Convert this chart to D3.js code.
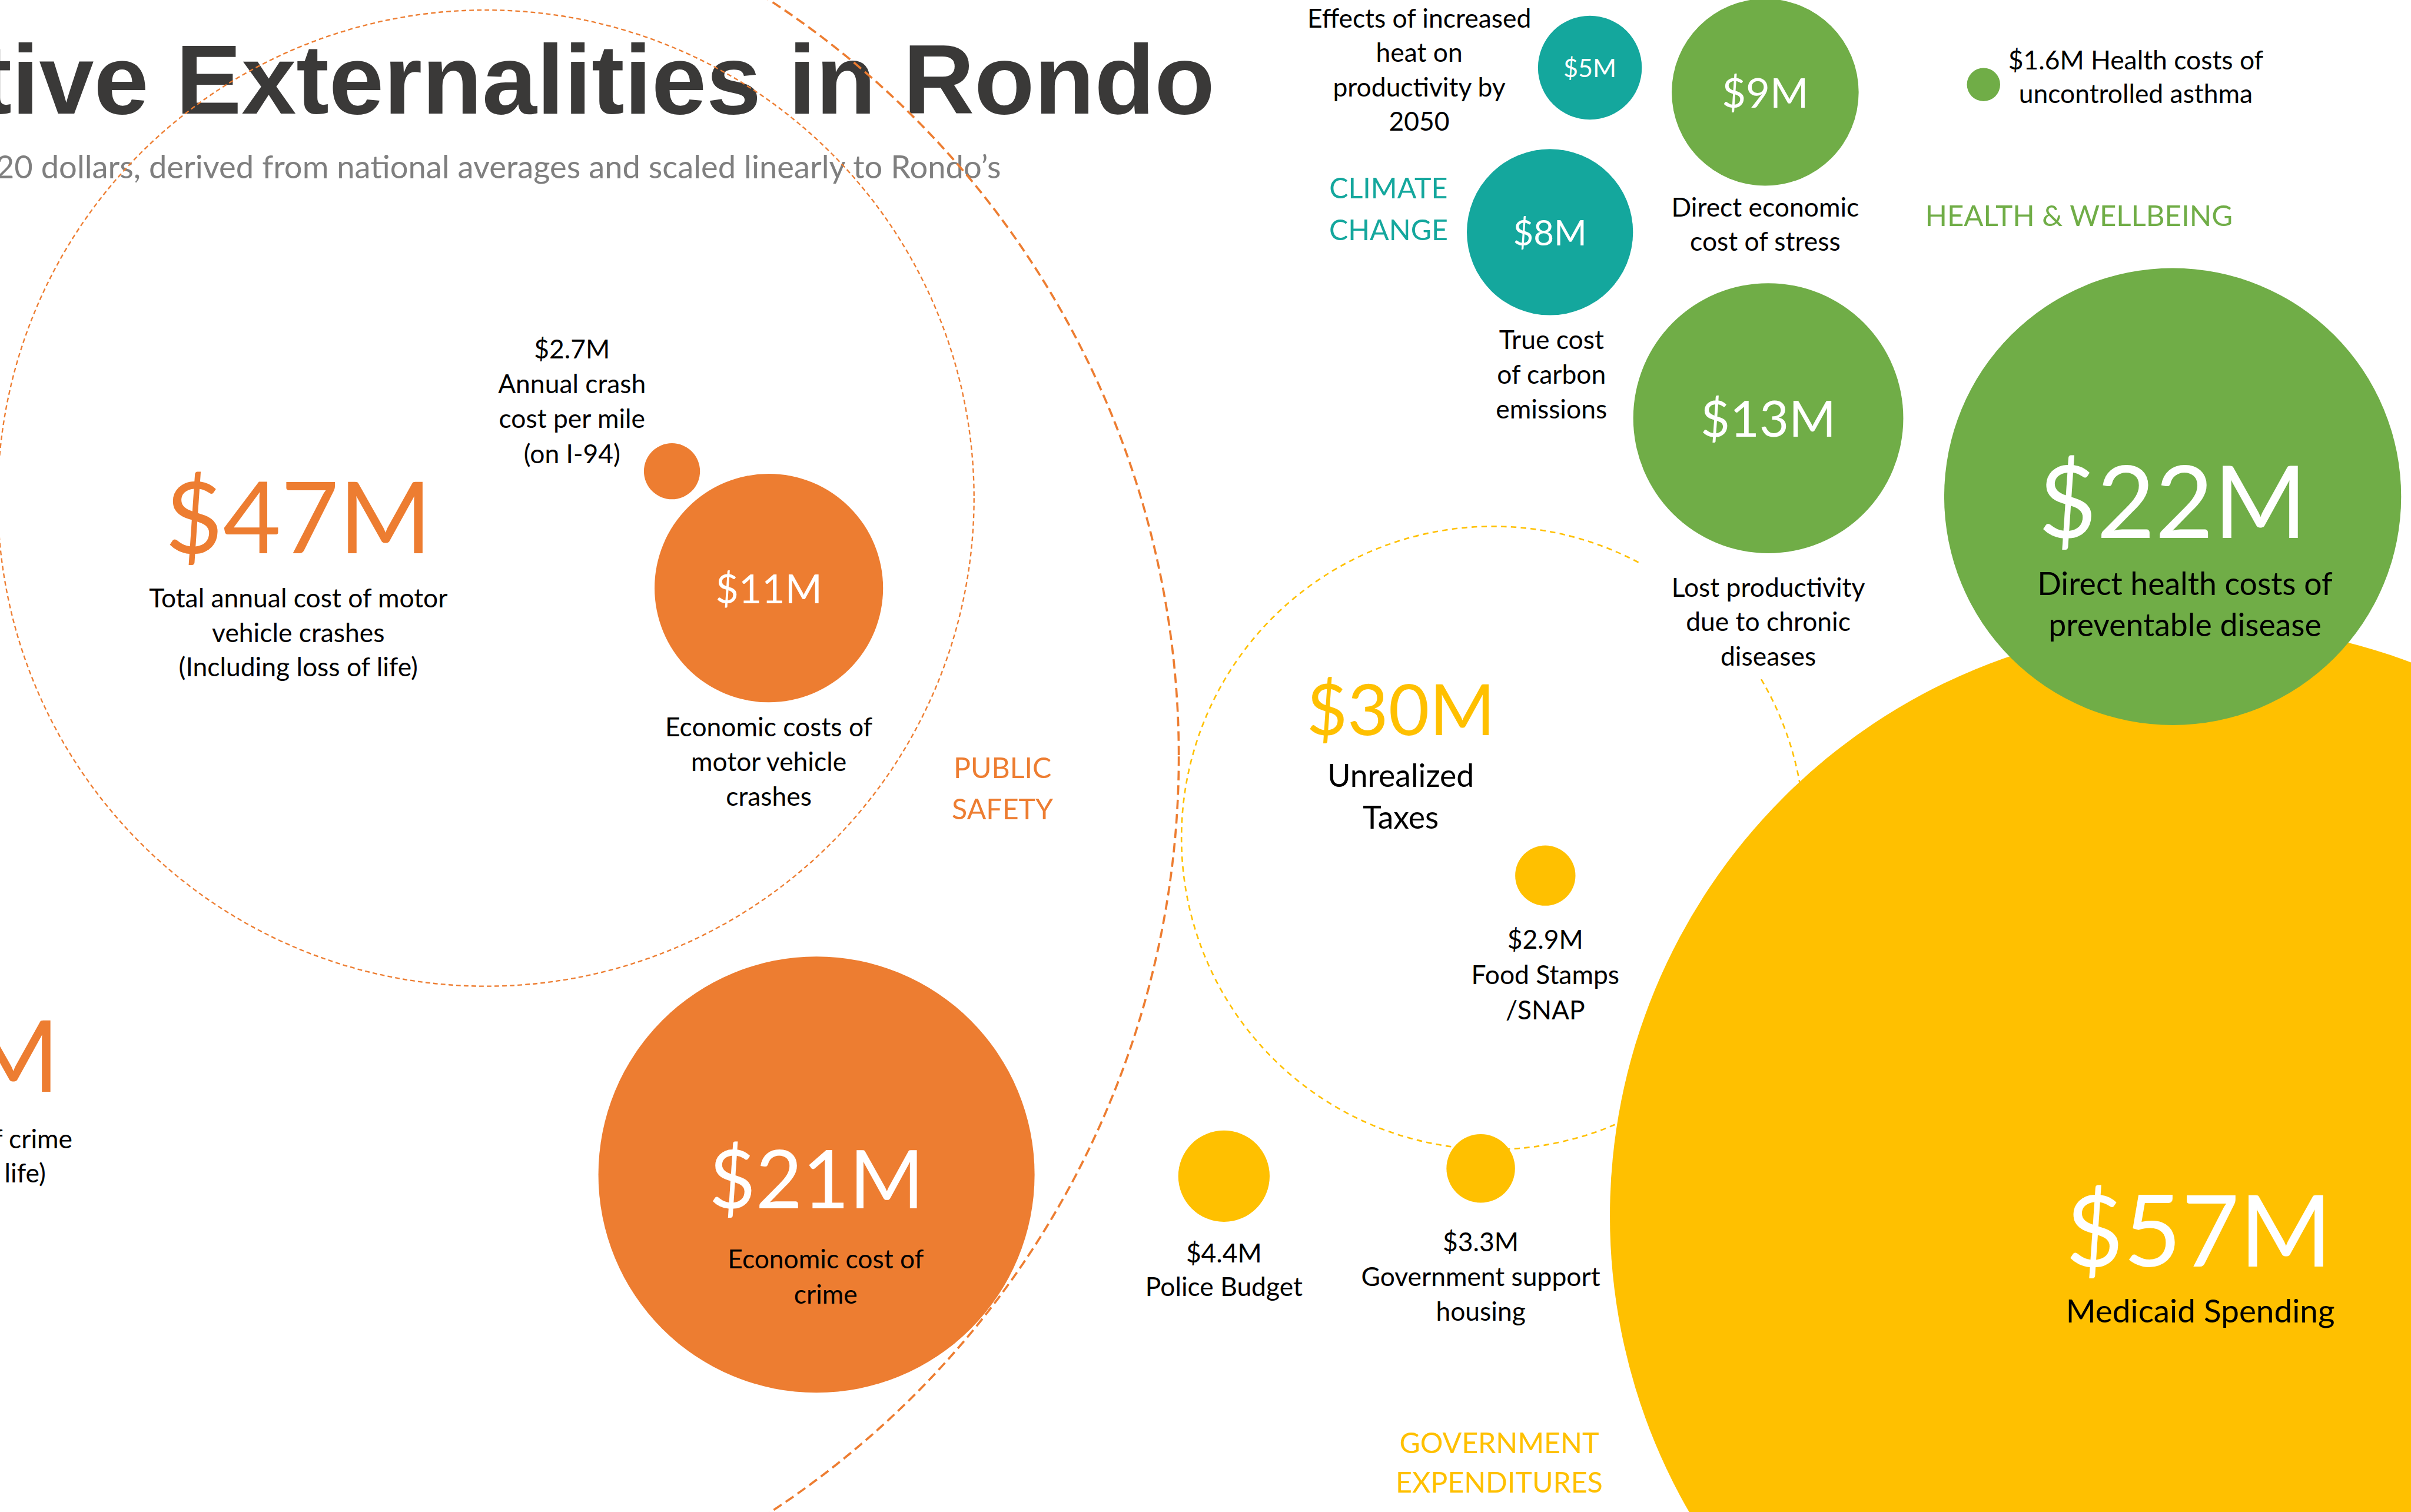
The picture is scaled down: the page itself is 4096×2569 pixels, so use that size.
<!DOCTYPE html>
<html>
<head>
<meta charset="utf-8">
<script src="https://cdn.jsdelivr.net/npm/d3@7"></script>
<style>
  html, body { margin: 0; padding: 0; background: #ffffff; overflow: hidden; }
  svg { display: block; }
</style>
</head>
<body>
<svg id="chart"></svg>
<script>
// ---------------- data ----------------
const categories = ["Public Safety", "Climate Change", "Health & Wellbeing", "Government Expenditures"];
const categoryLabels = [["PUBLIC", "SAFETY"], ["CLIMATE", "CHANGE"], ["HEALTH & WELLBEING"], ["GOVERNMENT", "EXPENDITURES"]];
const categoryColors = ["#ED7D31", "#14A79D", "#70AD47", "#FFC000"];

const items = ["crimeTotal", "crashTotal", "crimeEconomic", "crashEconomic", "crashPerMile",
               "heat", "carbon", "stress", "asthma", "chronic", "preventable",
               "taxes", "snap", "police", "housing", "medicaid"];
// annual cost, millions of 2020 dollars
const itemValues = [87, 47, 21, 11, 2.7, 5, 8, 9, 1.6, 13, 22, 30, 2.9, 4.4, 3.3, 57];
const itemCategory = [0, 0, 0, 0, 0, 1, 1, 2, 2, 2, 2, 3, 3, 3, 3, 3];
// totals are drawn as dashed outlines that enclose their components
const itemIsTotal = [true, true, false, false, false, false, false, false, false, false, false, true, false, false, false, false];
const itemDescriptions = [
  ["Total annual cost of crime", "(Including loss of life)"],
  ["Total annual cost of motor", "vehicle crashes", "(Including loss of life)"],
  ["Economic cost of", "crime"],
  ["Economic costs of", "motor vehicle", "crashes"],
  ["Annual crash", "cost per mile", "(on I-94)"],
  ["Effects of increased", "heat on", "productivity by", "2050"],
  ["True cost", "of carbon", "emissions"],
  ["Direct economic", "cost of stress"],
  ["Health costs of", "uncontrolled asthma"],
  ["Lost productivity", "due to chronic", "diseases"],
  ["Direct health costs of", "preventable disease"],
  ["Unrealized", "Taxes"],
  ["Food Stamps", "/SNAP"],
  ["Police Budget"],
  ["Government support", "housing"],
  ["Medicaid Spending"]
];

const titleText = "Negative Externalities in Rondo";
const subtitleText = "2020 dollars, derived from national averages and scaled linearly to Rondo\u2019s";

// ---------------- layout (design units, 1568 x 984 board) ----------------
// value label modes: inside = white on the bubble, color = large category-coloured figure,
// above = first line of the black caption, inline = prefix of the first caption line
const layout = {
  crimeTotal:    { cx: 179,  cy: 492,   value: { mode: "color",  x: -48,  y: 710, size: 65 },  desc: { x: -48,  y: 747, size: 17, lh: 22 } },
  crashTotal:    { cx: 316,  cy: 324,   value: { mode: "color",  x: 194,  y: 360, size: 65 },  desc: { x: 194,  y: 395, size: 17, lh: 22.5 } },
  crimeEconomic: { cx: 531,  cy: 764,   value: { mode: "inside", x: 531,  y: 786, size: 52.5 }, desc: { x: 537, y: 825, size: 17, lh: 23 } },
  crashEconomic: { cx: 500,  cy: 382.5, value: { mode: "inside", x: 500,  y: 392.5, size: 26 }, desc: { x: 500, y: 479, size: 17, lh: 22.5 } },
  crashPerMile:  { cx: 437,  cy: 306.5, value: { mode: "above" },                              desc: { x: 372,  y: 233, size: 17, lh: 22.7 } },
  heat:          { cx: 1034, cy: 44,    value: { mode: "inside", x: 1034, y: 50,  size: 16.5 }, desc: { x: 923,  y: 18,  size: 17, lh: 22.3 } },
  carbon:        { cx: 1008, cy: 151,   value: { mode: "inside", x: 1008, y: 159.5, size: 23 }, desc: { x: 1009, y: 227, size: 17, lh: 22.5 } },
  stress:        { cx: 1148, cy: 60,    value: { mode: "inside", x: 1148, y: 70,  size: 27 },  desc: { x: 1148, y: 141, size: 17, lh: 22 } },
  asthma:        { cx: 1290, cy: 55,    value: { mode: "inline" },                             desc: { x: 1389, y: 45,  size: 17, lh: 22 } },
  chronic:       { cx: 1150, cy: 272,   value: { mode: "inside", x: 1150, y: 284, size: 33 },  desc: { x: 1150, y: 388, size: 17, lh: 22.5, backdrop: true } },
  preventable:   { cx: 1413, cy: 323,   value: { mode: "inside", x: 1413, y: 350, size: 65.5 }, desc: { x: 1421, y: 387, size: 20.5, lh: 27 } },
  taxes:         { cx: 971,  cy: 545,   value: { mode: "color",  x: 911,  y: 478, size: 46 },  desc: { x: 911,  y: 512, size: 20.5, lh: 27 } },
  snap:          { cx: 1005, cy: 569.5, value: { mode: "above" },                              desc: { x: 1005, y: 617, size: 17, lh: 23 } },
  police:        { cx: 796,  cy: 765,   value: { mode: "above" },                              desc: { x: 796,  y: 821, size: 17, lh: 22 } },
  housing:       { cx: 963,  cy: 760,   value: { mode: "above" },                              desc: { x: 963,  y: 814, size: 17, lh: 22.5 } },
  medicaid:      { cx: 1432, cy: 791,   value: { mode: "inside", x: 1430, y: 824, size: 65 },  desc: { x: 1431, y: 860, size: 21, lh: 26 } }
};
const categoryLayout = [
  { x: 652,  y: 506, size: 18.5, lh: 27 },
  { x: 903,  y: 129, size: 18.5, lh: 27 },
  { x: 1352, y: 147, size: 18.8, lh: 27 },
  { x: 975,  y: 945, size: 18.5, lh: 26 }
];
const totalStroke = {
  crimeTotal: { width: 1.4, dash: [6.2, 3.2] },
  crashTotal: { width: 0.9, dash: [3, 2] },
  taxes:      { width: 1.0, dash: [3.6, 2.8] }
};

// ---------------- drawing ----------------
const W = 4096, H = 2569;
const BOARD_W = 1568, BOARD_H = 984;
const k = W / BOARD_W;

const x = d3.scaleLinear().domain([0, BOARD_W]).range([0, W]);
const y = d3.scaleLinear().domain([0, BOARD_H]).range([0, BOARD_H * k]);
const len = d3.scaleLinear().domain([0, 1]).range([0, k]);           // design length -> px
const radius = d3.scaleLinear().domain([0, 57]).range([0, len(385)]); // bubble radius grows with cost

const FONT = "Lato, 'Open Sans', 'Noto Sans', sans-serif";
const fmtValue = v => "$" + v + "M";

const svg = d3.select("#chart").attr("width", W).attr("height", H)
  .attr("viewBox", `0 0 ${W} ${H}`);
svg.append("rect").attr("width", W).attr("height", H).attr("fill", "#ffffff");

const nodes = items.map((key, i) => ({
  key, value: itemValues[i], category: itemCategory[i], total: itemIsTotal[i],
  desc: itemDescriptions[i], pos: layout[key]
}));

// title + subtitle
svg.append("text")
  .attr("x", x(790)).attr("y", y(74))
  .attr("text-anchor", "end")
  .attr("font-family", "'Liberation Sans', Arial, sans-serif")
  .attr("font-weight", 700)
  .attr("font-size", len(64))
  .attr("fill", "#3A3938")
  .text(titleText);
svg.append("text")
  .attr("x", x(651)).attr("y", y(116))
  .attr("text-anchor", "end")
  .attr("font-family", FONT)
  .attr("font-size", len(20.8))
  .attr("fill", "#7F7F7F")
  .text(subtitleText);

// dashed outlines for the totals
svg.append("g").attr("class", "totals")
  .selectAll("circle")
  .data(nodes.filter(d => d.total))
  .join("circle")
  .attr("cx", d => x(d.pos.cx))
  .attr("cy", d => y(d.pos.cy))
  .attr("r", d => radius(d.value))
  .attr("fill", "none")
  .attr("stroke", d => categoryColors[d.category])
  .attr("stroke-width", d => len(totalStroke[d.key].width))
  .attr("stroke-dasharray", d => totalStroke[d.key].dash.map(len).join(" "));

// white boxes behind captions that sit over an outline
const backdropLayer = svg.append("g").attr("class", "backdrops");

// filled bubbles, largest first so smaller ones stay on top
svg.append("g").attr("class", "bubbles")
  .selectAll("circle")
  .data(nodes.filter(d => !d.total).sort((a, b) => d3.descending(a.value, b.value)))
  .join("circle")
  .attr("cx", d => x(d.pos.cx))
  .attr("cy", d => y(d.pos.cy))
  .attr("r", d => radius(d.value))
  .attr("fill", d => categoryColors[d.category]);

// value figures
const valueLayer = svg.append("g").attr("class", "values");
nodes.filter(d => d.pos.value.mode === "inside" || d.pos.value.mode === "color").forEach(d => {
  const v = d.pos.value;
  valueLayer.append("text")
    .attr("x", x(v.x)).attr("y", y(v.y))
    .attr("text-anchor", "middle")
    .attr("font-family", FONT)
    .attr("font-size", len(v.size))
    .attr("fill", v.mode === "inside" ? "#ffffff" : categoryColors[d.category])
    .text(fmtValue(d.value));
});

// captions
const captionLayer = svg.append("g").attr("class", "captions");
nodes.forEach(d => {
  const p = d.pos.desc;
  let lines = d.desc.slice();
  if (d.pos.value.mode === "above") lines = [fmtValue(d.value)].concat(lines);
  if (d.pos.value.mode === "inline") lines[0] = fmtValue(d.value) + " " + lines[0];
  const t = captionLayer.append("text")
    .attr("text-anchor", "middle")
    .attr("font-family", FONT)
    .attr("font-size", len(p.size))
    .attr("fill", "#000000");
  lines.forEach((line, i) => {
    t.append("tspan")
      .attr("x", x(p.x))
      .attr("y", y(p.y + i * p.lh))
      .text(line);
  });
  if (p.backdrop) {
    const b = t.node().getBBox();
    backdropLayer.append("rect")
      .attr("x", b.x - len(20)).attr("y", b.y - len(7))
      .attr("width", b.width + len(40)).attr("height", b.height + len(12))
      .attr("fill", "#ffffff");
  }
});

// category headings
const catLayer = svg.append("g").attr("class", "categories");
categories.forEach((c, i) => {
  const p = categoryLayout[i];
  const t = catLayer.append("text")
    .attr("text-anchor", "middle")
    .attr("font-family", FONT)
    .attr("font-size", len(p.size))
    .attr("fill", categoryColors[i]);
  categoryLabels[i].forEach((line, j) => {
    t.append("tspan").attr("x", x(p.x)).attr("y", y(p.y + j * p.lh)).text(line);
  });
});
</script>
</body>
</html>
